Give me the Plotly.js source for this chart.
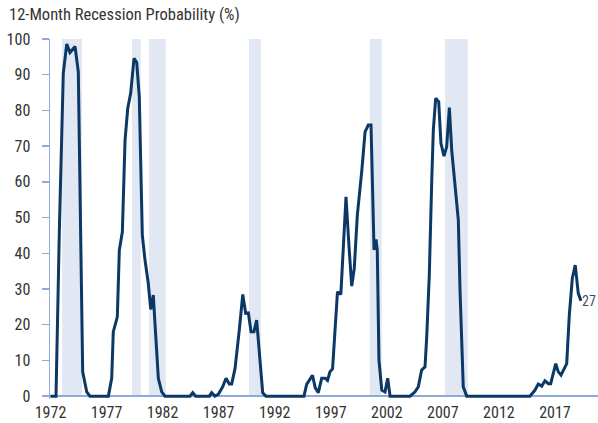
<!DOCTYPE html>
<html>
<head>
<meta charset="utf-8">
<script src="https://cdn.plot.ly/plotly-3.0.1.min.js"></script>
<style>
  html, body { margin: 0; padding: 0; background: #ffffff; }
  #chart { width: 598px; height: 423px; }
</style>
</head>
<body>
<div id="chart"></div>
<script>
// Time (decimal year) and 12-month recession probability (%)
const years = [
  1972.00, 1972.49, 1972.79, 1973.14, 1973.45, 1973.74, 1974.19, 1974.48, 1974.87, 1975.23,
  1975.52, 1977.16, 1977.46, 1977.60, 1977.96, 1978.14, 1978.41, 1978.65, 1978.89, 1979.15,
  1979.45, 1979.69, 1979.92, 1980.19, 1980.43, 1980.72, 1980.94, 1981.17, 1981.32, 1981.62,
  1981.92, 1982.21, 1984.44, 1984.69, 1984.95, 1986.17, 1986.38, 1986.67, 1986.97, 1987.36,
  1987.66, 1987.95, 1988.16, 1988.46, 1988.84, 1989.15, 1989.41, 1989.65, 1989.89, 1990.15,
  1990.39, 1990.63, 1990.93, 1991.22, 1994.61, 1994.85, 1995.37, 1995.62, 1995.89, 1996.19,
  1996.51, 1996.71, 1996.93, 1997.16, 1997.32, 1997.60, 1997.90, 1998.12, 1998.36, 1998.63,
  1998.87, 1999.10, 1999.37, 1999.76, 2000.06, 2000.35, 2000.59, 2000.74, 2000.86, 2001.04,
  2001.15, 2001.30, 2001.55, 2001.84, 2002.08, 2002.29, 2004.07, 2004.52, 2004.81, 2005.11,
  2005.41, 2005.56, 2005.79, 2006.01, 2006.15, 2006.36, 2006.63, 2006.83, 2007.10, 2007.34,
  2007.58, 2007.79, 2008.08, 2008.38, 2008.53, 2008.82, 2009.13, 2014.77, 2015.22, 2015.51,
  2015.82, 2016.11, 2016.41, 2016.62, 2017.07, 2017.30, 2017.54, 2017.81, 2018.05, 2018.28,
  2018.55, 2018.81, 2019.08, 2019.32
];
const probability = [
  0, 0, 46.5, 90.4, 98.6, 96.2, 97.9, 90.8, 6.8, 1.2,
  0, 0, 5, 18, 22.2, 40.9, 46, 71.7, 80.6, 84.8,
  94.6, 93.4, 83.8, 45.1, 38.1, 31.6, 24.3, 28.3, 20.4, 5,
  1.2, 0, 0, 1, 0, 0, 1, 0, 0.5, 2.6,
  5, 3.4, 3.4, 7.7, 18.5, 28.5, 23.2, 23.3, 18, 18,
  21.3, 12.4, 0.9, 0, 0, 3.3, 5.8, 2.3, 1, 5,
  5, 4.4, 6.8, 7.6, 14.7, 29.2, 28.5, 42.8, 55.8, 41.8,
  30.8, 35.8, 50.7, 62.8, 74, 75.9, 75.9, 56.8, 40.9, 43.9,
  40.9, 10.1, 1.7, 1.2, 5, 0, 0, 1.2, 2.6, 7.3,
  8.2, 16.6, 33.9, 60.5, 74.5, 83.4, 82.4, 70.8, 67.2, 69.8,
  80.8, 68.9, 59.1, 49.3, 29.7, 2.6, 0, 0, 1.7, 3.4,
  2.8, 4.3, 3.5, 3.5, 9.1, 6.8, 5.9, 7.7, 9.1, 22.7,
  33, 36.7, 28.8, 26.7
];
// Recession shading periods (start, end)
const recessionStart = [1973.03, 1979.27, 1980.79, 1989.71, 2000.50, 2007.19];
const recessionEnd   = [1974.81, 1980.05, 1982.28, 1990.78, 2001.55, 2009.22];
const tickYears = [1972, 1977, 1982, 1987, 1992, 1997, 2002, 2007, 2012, 2017];
const yTicks = [0, 10, 20, 30, 40, 50, 60, 70, 80, 90, 100];
const lastLabel = '27';

const FONT = '"Liberation Sans Narrow", "Arial Narrow", "Roboto Condensed", "DejaVu Sans Condensed", sans-serif';
const AXIS_COLOR = '#8eaad8';
const LINE_COLOR = '#0c3866';
const SHADE_COLOR = '#e1e8f3';

const shapes = recessionStart.map((s, i) => ({
  type: 'rect', xref: 'x', yref: 'y',
  x0: s, x1: recessionEnd[i], y0: 0, y1: 100,
  fillcolor: SHADE_COLOR, line: { width: 0 }, layer: 'below'
}));

const trace = {
  x: years, y: probability, type: 'scatter', mode: 'lines',
  line: { color: LINE_COLOR, width: 3 },
  hoverinfo: 'skip'
};

const layout = {
  width: 598, height: 423,
  margin: { l: 50, r: 0, t: 39, b: 24 },
  paper_bgcolor: '#ffffff', plot_bgcolor: '#ffffff',
  showlegend: false,
  font: { family: FONT, size: 16, color: '#333333' },
  title: {
    text: '12-Month Recession Probability (%)',
    xref: 'container', yref: 'container',
    x: 9 / 598, xanchor: 'left',
    y: 1 - 8 / 423, yanchor: 'top',
    font: { family: FONT, size: 16.5, color: '#333333' }
  },
  xaxis: {
    range: [1971.955, 2020.84],
    tickmode: 'array', tickvals: tickYears, ticktext: tickYears.map(String),
    showgrid: false, zeroline: false, showline: false, ticks: '',
    tickfont: { family: FONT, size: 16, color: '#333333' },
    ticklabelstandoff: 2, fixedrange: true
  },
  yaxis: {
    range: [-0.8, 100],
    tickmode: 'array', tickvals: yTicks,
    showgrid: false,
    zeroline: true, zerolinecolor: AXIS_COLOR, zerolinewidth: 1.5,
    showline: true, linecolor: AXIS_COLOR, linewidth: 1.5,
    ticks: 'outside', ticklen: 7, tickcolor: AXIS_COLOR, tickwidth: 1.5,
    tickfont: { family: FONT, size: 16, color: '#333333' },
    ticklabelstandoff: 8, fixedrange: true
  },
  shapes: shapes,
  annotations: [{
    x: years[years.length - 1], y: probability[probability.length - 1],
    xref: 'x', yref: 'y', text: lastLabel, showarrow: false,
    xanchor: 'left', yanchor: 'middle', xshift: -1,
    font: { family: FONT, size: 14, color: '#3d4f68' }
  }]
};

Plotly.newPlot('chart', [trace], layout, { displayModeBar: false, staticPlot: true });
</script>
</body>
</html>
